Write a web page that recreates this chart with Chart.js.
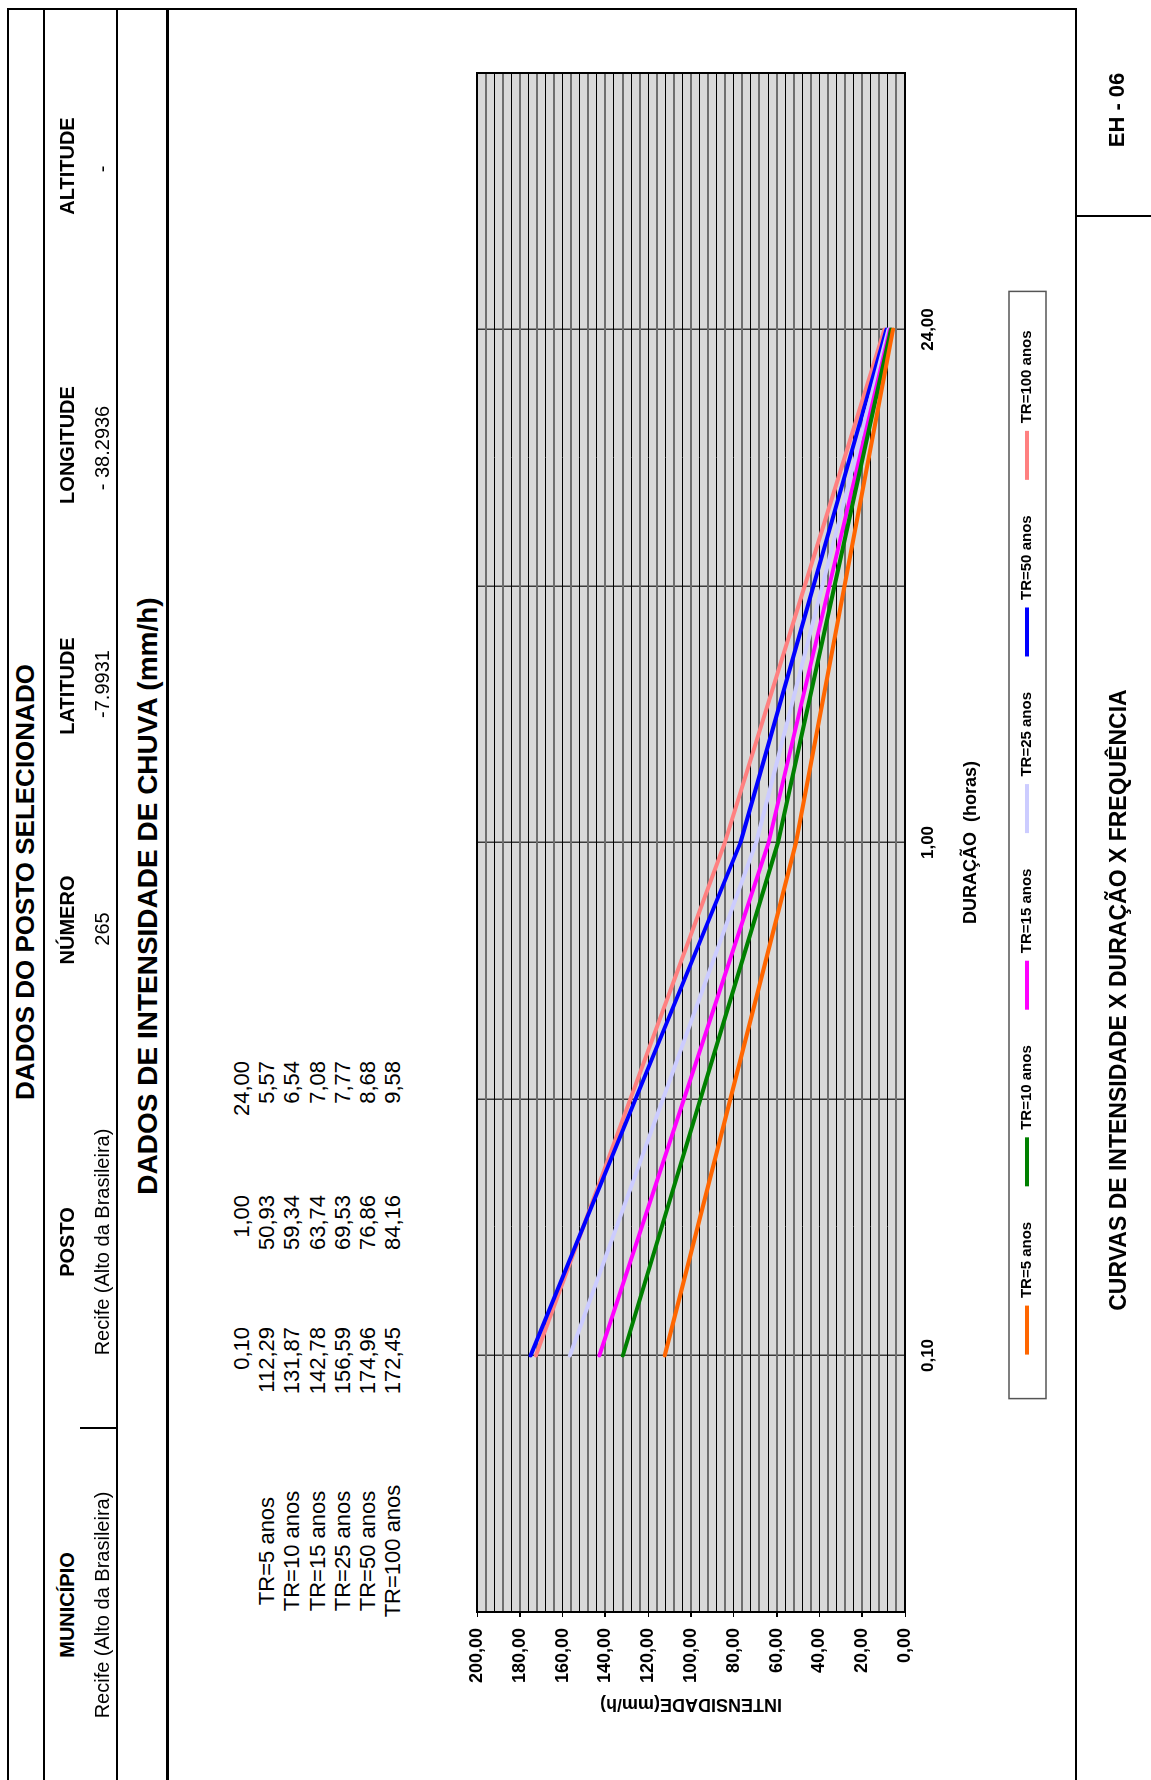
<!DOCTYPE html>
<html>
<head>
<meta charset="utf-8">
<script src="https://cdn.jsdelivr.net/npm/chart.js@4.4.1/dist/chart.umd.min.js"></script>
<style>
  html, body { margin: 0; padding: 0; background: #fff; overflow: hidden; }
  body { width: 1151px; height: 1780px; position: relative; }
  /* a folha foi feita em paisagem e depois girada */
  #pagina {
    position: absolute; left: 0; top: 0; width: 1780px; height: 1151px;
    transform-origin: 0 0; transform: translate(0, 1780px) rotate(-90deg);
    font-family: "Liberation Sans", Arial, sans-serif; color: #000;
  }
  .t { position: absolute; white-space: pre; text-align: center; width: 800px; }
  .l { position: absolute; background: #000; }
  #grafico { position: absolute; left: 20px; top: 440px; }
</style>
</head>
<body>
<div id="pagina">
  <canvas id="grafico" width="1751" height="636"></canvas>
</div>
<script>
const duracoes = ['0,10', '1,00', '24,00'];
const series = ['TR=5 anos', 'TR=10 anos', 'TR=15 anos', 'TR=25 anos', 'TR=50 anos', 'TR=100 anos'];
const tr5 = [112.29, 50.93, 5.57];
const tr10 = [131.87, 59.34, 6.54];
const tr15 = [142.78, 63.74, 7.08];
const tr25 = [156.59, 69.53, 7.77];
const tr50 = [174.96, 76.86, 8.68];
const tr100 = [172.45, 84.16, 9.58];
const cores = ['#FF6600', '#008000', '#FF00FF', '#CCCCFF', '#0000FF', '#FF8080'];
const valores = [tr5, tr10, tr15, tr25, tr50, tr100];

const pagina = document.getElementById('pagina');
const fmt = v => v.toFixed(2).replace('.', ',');

function texto(conteudo, x, y, tam, negrito, alinhar) {
  const d = document.createElement('div');
  d.className = 't';
  d.textContent = conteudo;
  d.style.fontSize = tam + 'px';
  d.style.lineHeight = tam + 'px';
  d.style.top = (y - tam / 2) + 'px';
  d.style.fontWeight = negrito ? 'bold' : 'normal';
  if (alinhar === 'right') {
    d.style.left = (x - 800) + 'px';
    d.style.textAlign = 'right';
  } else {
    d.style.left = (x - 400) + 'px';
  }
  pagina.appendChild(d);
}

function linha(x, y, w, h) {
  const d = document.createElement('div');
  d.className = 'l';
  d.style.left = x + 'px'; d.style.top = y + 'px';
  d.style.width = w + 'px'; d.style.height = h + 'px';
  pagina.appendChild(d);
}

// moldura e divisões do cabeçalho
linha(0, 7, 1772, 2);
linha(1770, 7, 2, 1070);
linha(0, 43, 1772, 2);
linha(0, 116, 1772, 2);
linha(0, 166, 1772, 3);
linha(0, 1075, 1772, 2);
linha(1563, 1075, 2, 76);
linha(351, 80, 2, 37);

texto('DADOS DO POSTO SELECIONADO', 898, 25, 26, true);
texto('MUNICÍPIO', 175, 67, 20, true);
texto('POSTO', 538, 67, 20, true);
texto('NÚMERO', 860, 67, 20, true);
texto('LATITUDE', 1094, 67, 20, true);
texto('LONGITUDE', 1335, 67, 20, true);
texto('ALTITUDE', 1614, 67, 20, true);
texto('Recife (Alto da Brasileira)', 175, 102, 20, false);
texto('Recife (Alto da Brasileira)', 538, 102, 20, false);
texto('265', 851, 102, 20, false);
texto('-7.9931', 1096, 102, 20, false);
texto('- 38.2936', 1332, 102, 20, false);
texto('-', 1611, 102, 20, false);
texto('DADOS DE INTENSIDADE DE CHUVA (mm/h)', 884, 148, 28, true);

// tabela de intensidades
const colunas = [453, 585, 719];
duracoes.forEach((d, j) => texto(d, colunas[j], 242, 22, false, 'right'));
series.forEach((s, i) => {
  const y = 267.2 + 25.2 * i;
  texto(s, 229, y, 22, false);
  valores[i].forEach((v, j) => texto(fmt(v), colunas[j], y, 22, false, 'right'));
});

texto('EH - 06', 1670, 1117, 22, true);
texto('CURVAS DE INTENSIDADE X DURAÇÃO X FREQUÊNCIA', 780, 1118, 23, true);

// eixo de categorias com uma divisão vazia entre as durações
const rotulos = [''];
duracoes.forEach(d => rotulos.push(d, ''));
const espalhar = arr => {
  const out = [null];
  arr.forEach(v => out.push(v, null));
  return out;
};

const fundoPlot = {
  id: 'fundoPlot',
  beforeDraw(chart) {
    const { ctx, chartArea: a } = chart;
    ctx.save();
    ctx.fillStyle = '#d9d9d9';
    ctx.fillRect(a.left, a.top, a.right - a.left, a.bottom - a.top);
    ctx.restore();
  },
  beforeDatasetsDraw(chart) {
    const { ctx, chartArea: a } = chart;
    ctx.save();
    ctx.strokeStyle = '#000';
    ctx.lineWidth = 2;
    ctx.strokeRect(a.left, a.top, a.right - a.left, a.bottom - a.top);
    ctx.restore();
  },
  afterDraw(chart) {
    const caixas = chart.legend.legendHitBoxes;
    if (!caixas || !caixas.length) return;
    const p = caixas[0], u = caixas[caixas.length - 1];
    const cy = p.top + p.height / 2;
    const ctx = chart.ctx;
    ctx.save();
    ctx.strokeStyle = '#555';
    ctx.lineWidth = 1.5;
    ctx.strokeRect(p.left - 44, cy - 18, u.left + u.width + 39 - (p.left - 44), 37);
    ctx.restore();
  }
};

Chart.defaults.font.family = '"Liberation Sans", Arial, sans-serif';
Chart.defaults.color = '#000';

new Chart(document.getElementById('grafico').getContext('2d'), {
  type: 'line',
  data: {
    labels: rotulos,
    datasets: series.map((s, i) => ({
      label: s,
      data: espalhar(valores[i]),
      borderColor: cores[i],
      backgroundColor: cores[i],
      borderWidth: 4,
      borderCapStyle: 'round',
      borderJoinStyle: 'round',
      pointRadius: 0,
      spanGaps: true,
      tension: 0
    }))
  },
  options: {
    responsive: false,
    animation: false,
    layout: { padding: { left: 0, right: 64, top: 37, bottom: 31.5 } },
    plugins: {
      tooltip: { enabled: false },
      legend: {
        position: 'bottom',
        fullSize: false,
        labels: {
          usePointStyle: true,
          pointStyle: 'line',
          pointStyleWidth: 49,
          padding: 35.5,
          color: '#000',
          font: { size: 15, weight: 'bold' }
        }
      }
    },
    scales: {
      x: {
        type: 'category',
        offset: false,
        grid: { color: '#3a3a3a', lineWidth: 1.5, drawTicks: false },
        border: { color: '#000', width: 2 },
        ticks: { autoSkip: false, maxRotation: 0, padding: 13, color: '#000', font: { size: 17, weight: 'bold' } },
        title: { display: true, text: 'DURAÇÃO  (horas)', color: '#000', font: { size: 18, weight: 'bold' }, padding: { top: 0, bottom: 2.2 } },
        afterFit: s => { s.height = 79; }
      },
      y: {
        min: 0,
        max: 200,
        ticks: {
          stepSize: 4,
          maxTicksLimit: 100,
          autoSkip: false,
          padding: 11,
          color: '#000',
          font: { size: 18, weight: 'bold' },
          callback: v => (v % 20 === 0 ? fmt(v) : '')
        },
        grid: {
          color: c => (c.index % 2 ? '#6e6e6e' : '#000'),
          lineWidth: c => (c.index % 2 ? 2 : 1),
          tickLength: 5,
          tickColor: c => (c.tick && c.tick.value % 20 === 0 ? '#000' : 'rgba(0,0,0,0)')
        },
        border: { color: '#000', width: 2 },
        title: { display: true, text: 'INTENSIDADE(mm/h)', color: '#000', font: { size: 18, weight: 'bold' }, padding: { top: 45, bottom: 0 } },
        afterFit: s => { s.width = 148; }
      }
    }
  },
  plugins: [fundoPlot]
});
</script>
</body>
</html>
